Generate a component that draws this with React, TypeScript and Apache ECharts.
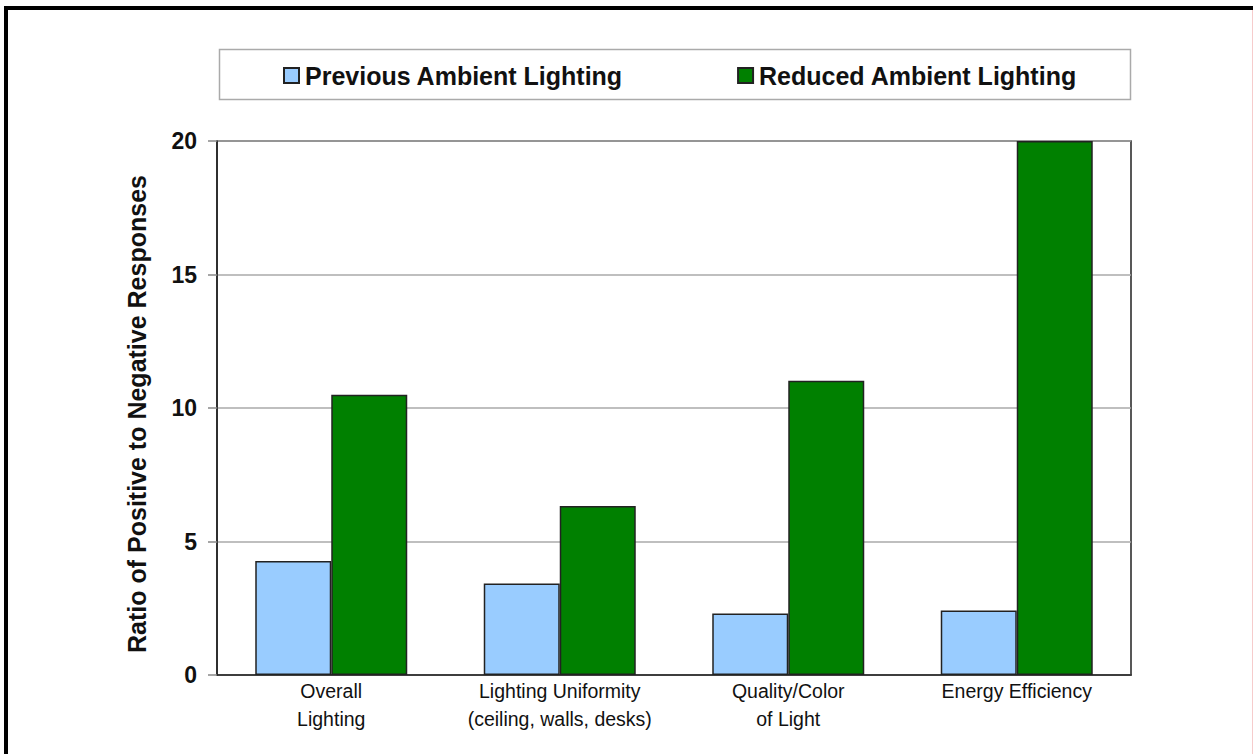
import React, { useEffect, useRef } from "react";
import * as echarts from "echarts";

const categories = [
  "Overall\nLighting",
  "Lighting Uniformity\n(ceiling, walls, desks)",
  "Quality/Color\nof Light",
  "Energy Efficiency",
];
const previousAmbient = [4.27, 3.43, 2.3, 2.42];
const reducedAmbient = [10.5, 6.33, 11.02, 20];
const seriesNames = ["Previous Ambient Lighting", "Reduced Ambient Lighting"];
const yTicks = { min: 0, max: 20, interval: 5 };
const yAxisTitle = "Ratio of Positive to Negative Responses";

const FONT = "'Liberation Sans', Arial, sans-serif";

export default function App() {
  const ref = useRef<HTMLDivElement>(null);
  useEffect(() => {
    if (!ref.current) return;
    const chart = echarts.init(ref.current, undefined, { renderer: "svg" });
    chart.setOption({
      animation: false,
      backgroundColor: "#ffffff",
      textStyle: { fontFamily: FONT },
      graphic: [
        { type: "rect", shape: { x: 4, y: 6, width: 1249, height: 4 }, style: { fill: "#000" }, z: 100 },
        { type: "rect", shape: { x: 4, y: 6, width: 4, height: 748 }, style: { fill: "#000" }, z: 100 },
        { type: "line", shape: { x1: 1252.5, y1: 10, x2: 1252.5, y2: 754 }, style: { stroke: "#f6cccc", lineWidth: 1 } },
        {
          type: "rect",
          shape: { x: 219.5, y: 49.5, width: 911, height: 50 },
          style: { fill: "#fff", stroke: "#aaa", lineWidth: 1.5 },
          z: -1,
        },
      ],
      legend: {
        left: 278,
        top: 58,
        itemWidth: 15,
        itemHeight: 15,
        itemGap: 114,
        icon: "rect",
        textStyle: { fontFamily: FONT, fontWeight: "bold", fontSize: 25, color: "#111", padding: [0, 0, 0, 1] },
        data: seriesNames,
      },
      grid: {
        left: 217,
        top: 141,
        width: 914,
        height: 534,
        show: true,
        borderColor: "#222",
        borderWidth: 1.5,
        backgroundColor: "transparent",
      },
      xAxis: {
        type: "category",
        data: categories,
        axisLine: { lineStyle: { color: "#222", width: 1.5 } },
        axisTick: { show: false },
        axisLabel: {
          fontFamily: FONT,
          fontSize: 19.5,
          color: "#111",
          lineHeight: 28,
          margin: 2,
          interval: 0,
        },
      },
      yAxis: {
        type: "value",
        min: yTicks.min,
        max: yTicks.max,
        interval: yTicks.interval,
        name: yAxisTitle,
        nameLocation: "middle",
        nameGap: 68,
        nameTextStyle: {
          fontFamily: FONT,
          fontWeight: "bold",
          fontSize: 25,
          color: "#111",
          padding: [0, 12, 0, 0],
        },
        axisLine: { show: true, lineStyle: { color: "#222", width: 1.5 } },
        axisTick: { show: true, length: 9, lineStyle: { color: "#888", width: 1.5 } },
        axisLabel: { fontFamily: FONT, fontWeight: "bold", fontSize: 23, color: "#111", margin: 20 },
        splitLine: { show: true, lineStyle: { color: "#aaa", width: 1.5 } },
      },
      series: [
        {
          name: seriesNames[0],
          type: "bar",
          data: previousAmbient,
          barWidth: 76,
          barGap: "0%",
          itemStyle: { color: "#99CCFF", borderColor: "#222", borderWidth: 1.5 },
        },
        {
          name: seriesNames[1],
          type: "bar",
          data: reducedAmbient,
          barWidth: 76,
          barGap: "0%",
          itemStyle: { color: "#008000", borderColor: "#222", borderWidth: 1.5 },
        },
      ],
    });
    return () => chart.dispose();
  }, []);
  return (
    <div
      ref={ref}
      style={{ position: "absolute", left: 0, top: 0, width: 1253, height: 754 }}
    />
  );
}
